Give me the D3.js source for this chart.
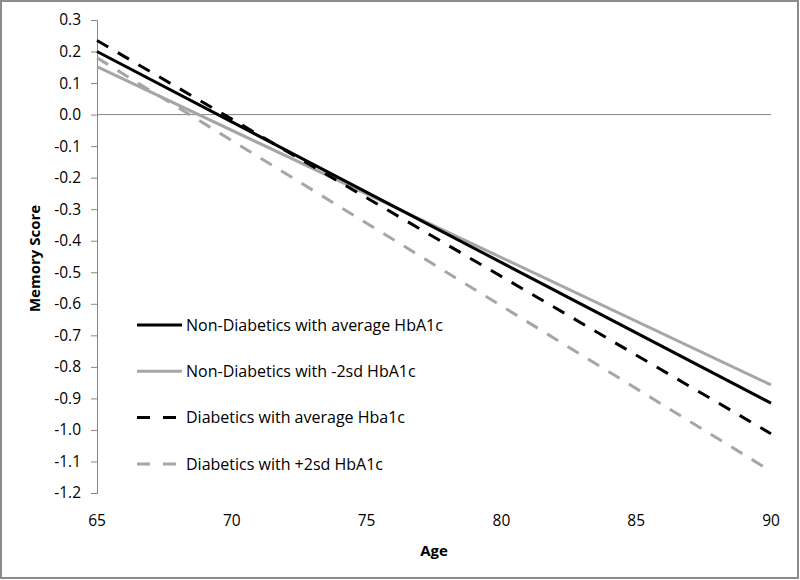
<html>
<head>
<meta charset="utf-8">
<script src="https://d3js.org/d3.v7.min.js"></script>
<style>
  body { margin: 0; background: #fff; }
  text { font-family: "Open Sans", "Noto Sans", sans-serif; fill: #000; }
</style>
</head>
<body>
<script>
var ages = [65, 90];
var seriesNames = ['Non-Diabetics with average HbA1c', 'Non-Diabetics with -2sd HbA1c',
                   'Diabetics with average Hba1c', 'Diabetics with +2sd HbA1c'];
var nonDiabAvg = [0.20, -0.915];
var nonDiabLow = [0.152, -0.857];
var diabAvg = [0.235, -1.012];
var diabHigh = [0.18, -1.131];
var yTicks = [0.3, 0.2, 0.1, 0.0, -0.1, -0.2, -0.3, -0.4, -0.5, -0.6, -0.7, -0.8, -0.9, -1.0, -1.1, -1.2];
var xTicks = [65, 70, 75, 80, 85, 90];

var width = 800, height = 580;
var plotLeft = 97, plotRight = 771, plotTop = 20, plotBottom = 493;

var svg = d3.select('body').append('svg')
  .attr('width', width).attr('height', height);

// outer frame
svg.append('rect')
  .attr('x', 1).attr('y', 1).attr('width', width - 3).attr('height', height - 3)
  .attr('fill', 'none').attr('stroke', '#8c8c8c').attr('stroke-width', 2);

var x = d3.scaleLinear().domain([65, 90]).range([plotLeft, plotRight]);
var y = d3.scaleLinear().domain([-1.2, 0.3]).range([plotBottom, plotTop]);

// y axis (labels use a plain hyphen like the original)
var yAxis = d3.axisLeft(y).tickValues(yTicks)
  .tickFormat(function(d) { return (Math.abs(d) < 1e-9 ? 0 : d).toFixed(1); })
  .tickSizeOuter(0).tickSize(6).tickPadding(10);
var gy = svg.append('g').attr('transform', 'translate(' + plotLeft + ',0)').call(yAxis);
gy.selectAll('path, line').attr('stroke', '#868686');
gy.selectAll('text').style('font-size', '15.5px').style('font-family', '"Open Sans", sans-serif');

// zero line (horizontal axis crossing)
svg.append('line')
  .attr('x1', x(65)).attr('x2', x(90)).attr('y1', y(0)).attr('y2', y(0))
  .attr('stroke', '#868686').attr('stroke-width', 1);

// x tick labels placed at the bottom
svg.append('g').selectAll('text').data(xTicks).enter().append('text')
  .attr('x', function(d) { return x(d); })
  .attr('y', 526)
  .attr('text-anchor', 'middle')
  .style('font-size', '15.5px')
  .text(function(d) { return d; });

// axis titles
svg.append('text').attr('x', 434).attr('y', 556).attr('text-anchor', 'middle')
  .style('font-size', '15px').style('font-weight', 'bold').text('Age');
svg.append('text').attr('transform', 'translate(40,' + ((plotTop + plotBottom) / 2 + 2) + ') rotate(-90)')
  .attr('text-anchor', 'middle')
  .style('font-size', '15px').style('font-weight', 'bold').text('Memory Score');

var series = [
  { name: seriesNames[0], vals: nonDiabAvg, color: '#000000', dash: null },
  { name: seriesNames[1], vals: nonDiabLow, color: '#a6a6a6', dash: null },
  { name: seriesNames[2], vals: diabAvg, color: '#000000', dash: '13,11' },
  { name: seriesNames[3], vals: diabHigh, color: '#a6a6a6', dash: '13,11' }
];

var line = d3.line()
  .x(function(d) { return x(d[0]); })
  .y(function(d) { return y(d[1]); });

// draw gray first then black so overlaps look right
[1, 3, 0, 2].forEach(function(i) {
  var s = series[i];
  svg.append('path')
    .datum(ages.map(function(a, j) { return [a, s.vals[j]]; }))
    .attr('d', line)
    .attr('fill', 'none')
    .attr('stroke', s.color)
    .attr('stroke-width', 3)
    .attr('stroke-dasharray', s.dash);
});

// legend
var legend = svg.append('g').attr('transform', 'translate(137,325)');
series.forEach(function(s, i) {
  var g = legend.append('g').attr('transform', 'translate(0,' + (i * 46.3) + ')');
  g.append('line').attr('x1', 0).attr('x2', 45).attr('y1', 0).attr('y2', 0)
    .attr('stroke', s.color).attr('stroke-width', 3)
    .attr('stroke-dasharray', s.dash ? '13,13' : null);
  g.append('text').attr('x', 49).attr('y', 0).attr('dy', '0.35em')
    .style('font-size', '16px').text(s.name);
});
</script>
</body>
</html>
